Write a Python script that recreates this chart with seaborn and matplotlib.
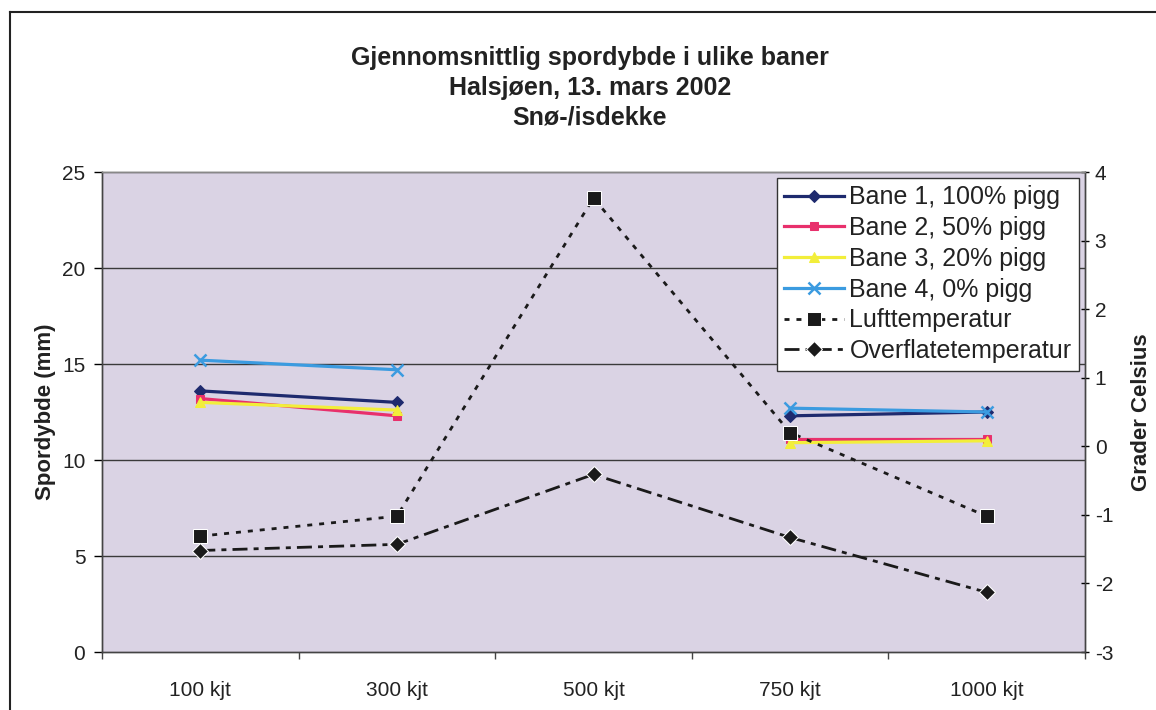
import numpy as np
import pandas as pd
import matplotlib
matplotlib.use("Agg")
import matplotlib.pyplot as plt
import seaborn as sns
from matplotlib.lines import Line2D
from matplotlib.ticker import FixedLocator, NullFormatter

# ---- data ----
categories = ["100 kjt", "300 kjt", "500 kjt", "750 kjt", "1000 kjt"]
bane1 = [13.6, 13.0, np.nan, 12.3, 12.5]
bane2 = [13.2, 12.3, np.nan, 11.1, 11.1]
bane3 = [13.0, 12.6, np.nan, 10.9, 11.0]
bane4 = [15.2, 14.7, np.nan, 12.7, 12.5]
luft = [-1.31, -1.02, 3.62, 0.20, -1.02]
overflate = [-1.52, -1.43, -0.41, -1.33, -2.13]
lane_names = ["Bane 1, 100% pigg", "Bane 2, 50% pigg", "Bane 3, 20% pigg", "Bane 4, 0% pigg"]
temp_names = ["Lufttemperatur", "Overflatetemperatur"]
left_ticks = [0, 5, 10, 15, 20, 25]
right_ticks = [-3, -2, -1, 0, 1, 2, 3, 4]
title_lines = ["Gjennomsnittlig spordybde i ulike baner", "Halsjøen, 13. mars 2002", "Snø-/isdekke"]

plt.rcParams["font.family"] = ["Liberation Sans", "DejaVu Sans"]
plt.rcParams["axes.unicode_minus"] = False

W, H = 1156, 710
fig = plt.figure(figsize=(W / 100, H / 100), dpi=100, facecolor="white")
L, R, T, B = 102, 1085, 172, 652
ax = fig.add_axes([L / W, 1 - B / H, (R - L) / W, (B - T) / H])
ax.set_facecolor("#dad3e4")
ax2 = ax.twinx()

x_idx = list(range(len(categories)))

lane_styles = [
    dict(color="#1e2a6e", marker="D", markersize=6),
    dict(color="#e8306c", marker="s", markersize=6),
    dict(color="#f2ee3a", marker="^", markersize=7),
    dict(color="#3b9be0", marker="x", markersize=8, markeredgewidth=1.8),
]

for name, vals, st in zip(lane_names, [bane1, bane2, bane3, bane4], lane_styles):
    df = pd.DataFrame({"x": x_idx, "y": vals})
    df["seg"] = (df["x"] > 2).astype(int)
    df = df.dropna()
    sns.lineplot(data=df, x="x", y="y", units="seg", estimator=None, ax=ax,
                 linewidth=2.3, label=name, markeredgecolor=st["color"], **st)

temp_styles = [
    dict(color="#1a1a1a", marker="s", markersize=10, linestyle=(0, (1.8, 2.5))),
    dict(color="#1a1a1a", marker="D", markersize=8, linestyle=(0, (5.4, 2.2, 1.8, 2.2))),
]
for name, vals, st in zip(temp_names, [luft, overflate], temp_styles):
    df = pd.DataFrame({"x": x_idx, "y": vals})
    sns.lineplot(data=df, x="x", y="y", estimator=None, ax=ax2,
                 linewidth=2.0, label=name, **st)

# ---- axes ----
ax.set_xlim(-0.5, len(categories) - 0.5)
ax.set_ylim(0, 25)
ax2.set_ylim(-3, 4)
ax.set_yticks(left_ticks)
ax2.set_yticks(right_ticks)
ax.xaxis.set_major_locator(FixedLocator([i - 0.5 for i in range(len(categories) + 1)]))
ax.xaxis.set_major_formatter(NullFormatter())
ax.xaxis.set_minor_locator(FixedLocator(x_idx))
ax.set_xticklabels(categories, minor=True)
ax.tick_params(axis="x", which="major", length=5, width=1, direction="out", colors="#444444")
ax.tick_params(axis="x", which="minor", length=0, pad=21, labelsize=15, labelcolor="#222222")
ax.tick_params(axis="y", length=6, width=1, direction="out", labelsize=15, pad=6, labelcolor="#222222")
ax2.tick_params(axis="y", length=6, width=1, direction="inout", labelsize=15, pad=4, labelcolor="#222222")
ax.set_xlabel("")
ax.set_ylabel("Spordybde (mm)", fontsize=16, fontweight="bold", color="#222222")
ax.yaxis.set_label_coords(-0.047, 0.5)
ax2.set_ylabel("Grader Celsius", fontsize=16, fontweight="bold", color="#222222")
ax2.yaxis.set_label_coords(1.047, 0.5)
ax2.set_xlabel("")

ax.grid(False)
ax2.grid(False)
for v in left_ticks[1:-1]:
    ax.axhline(v, color="#3a3a3a", linewidth=1.0, zorder=0.5)
for a in (ax, ax2):
    for s in a.spines.values():
        s.set_color("#444444")
        s.set_linewidth(1.0)
ax2.spines["top"].set_color("#888888")

# ---- legend ----
handles, labels = [], []
for a in (ax, ax2):
    h, l = a.get_legend_handles_labels()
    for hh, ll in zip(h, l):
        if ll not in labels:
            handles.append(hh)
            labels.append(ll)
if ax.get_legend() is not None:
    ax.get_legend().remove()
if ax2.get_legend() is not None:
    ax2.get_legend().remove()
leg = ax2.legend(handles, labels, loc="upper right", bbox_to_anchor=(0.994, 0.988),
                 borderaxespad=0, fontsize=18, frameon=True, fancybox=False,
                 edgecolor="#333333", facecolor="white", framealpha=1,
                 handlelength=2.4, handletextpad=0.2, labelspacing=0.27,
                 borderpad=0.3)
leg.get_frame().set_linewidth(1.0)
for t in leg.get_texts():
    t.set_color("#222222")

# ---- title ----
fig.text(590 / W, 1 - 88 / H, "\n".join(title_lines), ha="center", va="center",
         fontsize=18, fontweight="bold", color="#222222", linespacing=1.3)

# ---- frame lines ----
fig.add_artist(Line2D([10 / W, 1.0], [1 - 12 / H, 1 - 12 / H], transform=fig.transFigure,
                      color="#222222", linewidth=1.5))
fig.add_artist(Line2D([10 / W, 10 / W], [0, 1 - 12 / H], transform=fig.transFigure,
                      color="#222222", linewidth=1.5))

fig.savefig("out.png", dpi=100, facecolor="white")
